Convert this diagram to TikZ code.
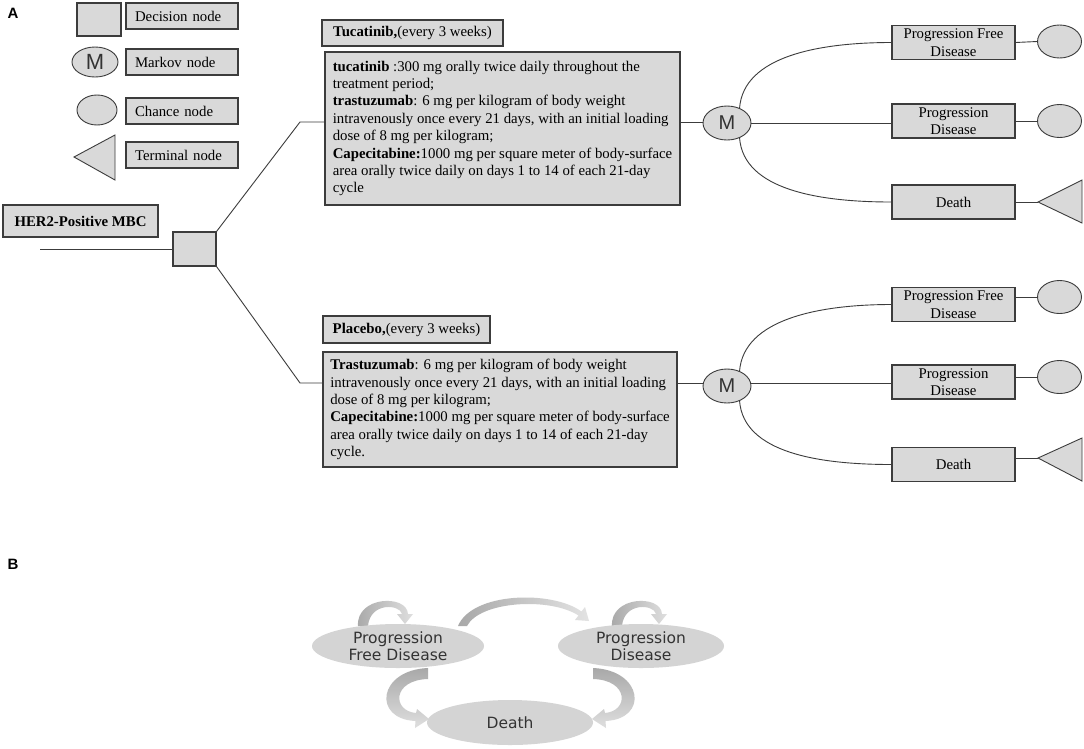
\documentclass[tikz,border=0pt]{standalone}
\usepackage{fontspec}
\setmainfont{Liberation Serif}
\newfontfamily\arialf{Liberation Sans}
\newfontfamily\dejavu{DejaVu Sans}
\usetikzlibrary{shapes.geometric,calc}
\definecolor{boxfill}{HTML}{D9D9D9}
\definecolor{edge}{HTML}{3C3C3C}
\definecolor{bfill}{HTML}{D4D4D4}
\definecolor{btext}{HTML}{333333}
\begin{document}
\begin{tikzpicture}[x=1pt,y=-1pt,
 base/.style={font=\fontsize{14.8}{17.4}\selectfont},
 fbox/.style={base,rectangle,draw=edge,line width=1.1pt,fill=boxfill,inner sep=0pt},
 lbl/.style={fbox,minimum width=112pt,minimum height=26pt,text width=94pt,inner xsep=9pt,align=left},
 state/.style={fbox,minimum width=123pt,minimum height=34pt,align=center},
 decision/.style={fbox,minimum width=43pt,minimum height=34pt},
 markov/.style={ellipse,draw=edge,line width=0.9pt,fill=boxfill,minimum width=48pt,minimum height=34pt,inner sep=0pt,font=\arialf\fontsize{20}{20}\selectfont,text=btext},
 chance/.style={ellipse,draw=edge,line width=0.9pt,fill=boxfill,minimum width=44pt,minimum height=33pt,inner sep=0pt},
 conn/.style={draw=edge,line width=0.9pt},
 term/.style={draw=edge,line width=0.9pt,fill=boxfill,line join=miter},
 bstate/.style={ellipse,fill=bfill,draw=none,text=btext,inner xsep=0pt,inner ysep=-6pt,align=center,font=\dejavu\fontsize{15.5}{17}\selectfont},
 panel/.style={font=\arialf\bfseries\fontsize{15}{15}\selectfont}
]
\useasboundingbox (0,0) rectangle (1084,748);
\fill[white] (0,0) rectangle (1084,748);

% panel labels
\node[panel] (labA) at (13,13) {A};
\node[panel] (labB) at (13,564) {B};

% legend
\node[decision,minimum width=44pt,minimum height=33pt] (lgdec) at (99,19.5) {};
\node[lbl] (lgdect) at (182,16) {Decision node};
\node[markov,minimum width=46pt,minimum height=30pt,font=\arialf\fontsize{22}{22}\selectfont] (lgmk) at (95,62) {M};
\node[lbl] (lgmkt) at (182,62) {Markov node};
\node[chance,minimum width=40pt,minimum height=30pt] (lgch) at (97,110) {};
\node[lbl] (lgcht) at (182,111) {Chance node};
\coordinate (lgterm) at (74,157);
\draw[term] (lgterm) -- ++(41,-22) -- ++(0,45) -- cycle;
\node[lbl] (lgtermt) at (182,155) {Terminal node};

% root
\node[fbox,minimum width=155pt,minimum height=32pt,font=\bfseries\fontsize{14.8}{17.4}\selectfont] (her) at (80.5,221) {HER2-Positive MBC};
\node[decision] (dec) at (194.5,249) {};
\coordinate (root) at (40,249);
\draw[conn] (root) -- (dec.west);
\coordinate (b1) at (300,122);
\coordinate (b2) at (300,383);

% upper arm
\node[fbox,minimum width=181pt,minimum height=26pt] (th) at (412.5,33) {\textbf{Tucatinib,}(every 3 weeks)};
\node[fbox,minimum width=355pt,minimum height=153pt,align=left] (tb) at (502.5,128.5) {\textbf{tucatinib} :300 mg orally twice daily throughout the\\
treatment period;\\
\textbf{trastuzumab}: 6 mg per kilogram of body weight\\
intravenously once every 21 days, with an initial loading\\
dose of 8 mg per kilogram;\\
\textbf{Capecitabine:}1000 mg per square meter of body-surface\\
area orally twice daily on days 1 to 14 of each 21-day\\
cycle};
\draw[conn] (dec.north east) -- (b1) -- (b1 -| tb.west);
\node[markov] (m1) at (727,123) {M};
\draw[conn] (tb.east |- b1) -- (m1.west |- b1);
\node[state] (pfd1) at (953.5,42.5) {Progression Free\\Disease};
\node[state] (pd1) at (953.5,121) {Progression\\Disease};
\node[state] (de1) at (953.5,202) {Death};
\node[chance] (c11) at (1059.5,41.5) {};
\node[chance] (c12) at (1059.5,121) {};
\coordinate (t1) at (1038,202);
\draw[term] (t1) -- ++(44,-22) -- ++(0,43) -- cycle;
\draw[conn] (m1.50) .. controls +(4,-52) and +(-72,0) .. (pfd1.west);
\draw[conn] (m1.east) -- (m1.east -| pd1.west);
\draw[conn] (m1.-50) .. controls +(4,52) and +(-72,0) .. (de1.west);
\draw[conn] (pfd1.east) -- (c11.west);
\draw[conn] (pd1.east) -- (c12.west);
\draw[conn] (de1.east) -- (t1);

% lower arm
\node[fbox,minimum width=167pt,minimum height=27pt] (ph) at (406.5,329.5) {\textbf{Placebo,}(every 3 weeks)};
\node[fbox,minimum width=354pt,minimum height=115pt,align=left] (pb) at (500,409.5) {\textbf{Trastuzumab}: 6 mg per kilogram of body weight\\
intravenously once every 21 days, with an initial loading\\
dose of 8 mg per kilogram;\\
\textbf{Capecitabine:}1000 mg per square meter of body-surface\\
area orally twice daily on days 1 to 14 of each 21-day\\
cycle.};
\draw[conn] (dec.south east) -- (b2) -- (b2 -| pb.west);
\node[markov] (m2) at (727,386) {M};
\draw[conn] (pb.east |- b2) -- (m2.west |- b2);
\node[state] (pfd2) at (953.5,304.5) {Progression Free\\Disease};
\node[state] (pd2) at (953.5,382) {Progression\\Disease};
\node[state] (de2) at (953.5,464.5) {Death};
\node[chance] (c21) at (1059.5,297) {};
\node[chance] (c22) at (1059.5,377) {};
\coordinate (t2) at (1038,458);
\draw[term] (t2) -- ++(44,-20) -- ++(0,43) -- cycle;
\draw[conn] (m2.50) .. controls +(4,-52) and +(-72,0) .. (pfd2.west);
\draw[conn] (m2.east |- b2) -- (b2 -| pd2.west);
\draw[conn] (m2.-50) .. controls +(4,52) and +(-72,0) .. (de2.west);
\draw[conn] (pfd2.east |- c21.west) -- (c21.west);
\draw[conn] (pd2.east |- c22.west) -- (c22.west);
\draw[conn] (de2.east |- t2) -- (t2);

% panel B: block arrows
\shade[left color=gray!68,right color=gray!25]
  (358,626) .. controls (356,596) and (407,594) .. (408,614) -- (413,614) -- (405,624) -- (397,614) -- (402,614)
  .. controls (400,604) and (370,602) .. (368,626) -- cycle;
\shade[left color=gray!68,right color=gray!25]
  (612,626) .. controls (610,596) and (661,594) .. (662,614) -- (667,614) -- (659,624) -- (651,614) -- (656,614)
  .. controls (654,604) and (624,602) .. (622,626) -- cycle;
\shade[left color=gray!68,right color=gray!22]
  (458,626) .. controls (472,592) and (552,590) .. (581.5,611.5) -- (585,607) -- (589,621) -- (575,620) -- (578.5,615.5)
  .. controls (550,597) and (480,601) .. (467,626) -- cycle;
\shade[top color=gray!68,bottom color=gray!25]
  (428,668) .. controls (378,670) and (372,719) .. (415.5,721) -- (415,728) -- (429,719) -- (417,709) -- (416,713)
  .. controls (392,711) and (392,680) .. (428,679) -- cycle;
\shade[top color=gray!68,bottom color=gray!25]
  (593,668) .. controls (643,670) and (649,719) .. (605.5,721) -- (606,728) -- (592,719) -- (604,709) -- (605,713)
  .. controls (629,711) and (629,680) .. (593,679) -- cycle;

% panel B: states
\node[bstate,minimum width=172pt,minimum height=44pt] (s1) at (398,646) {Progression\\Free Disease};
\node[bstate,minimum width=166pt,minimum height=44pt] (s2) at (641,646) {Progression\\Disease};
\node[bstate,minimum width=166pt,minimum height=45pt] (s3) at (510,722.5) {Death};
\end{tikzpicture}
\end{document}
